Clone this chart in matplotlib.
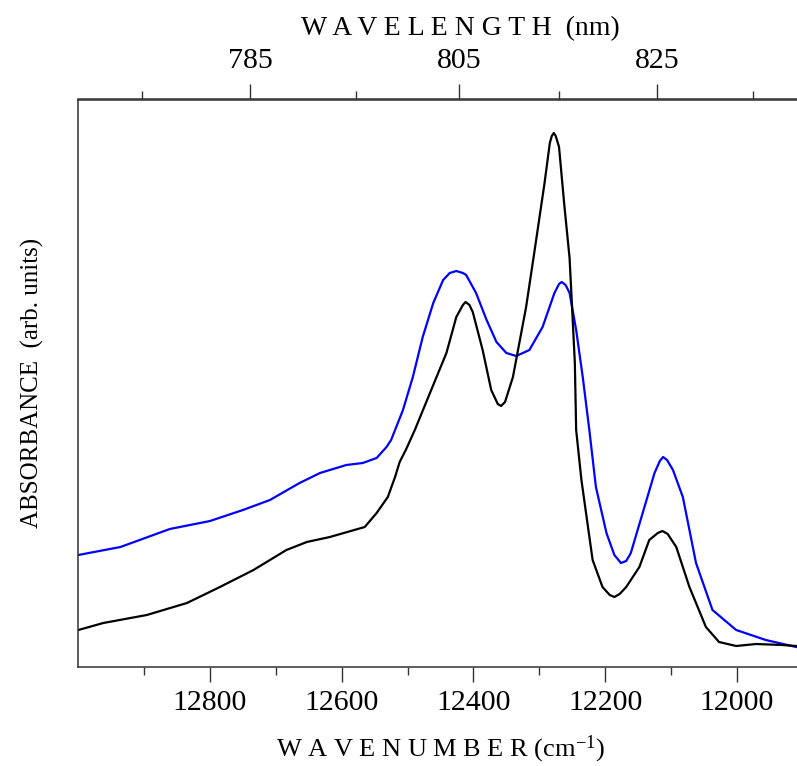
import matplotlib
matplotlib.use("Agg")
import matplotlib.pyplot as plt
from matplotlib.ticker import FixedLocator, NullFormatter

plt.rcParams['font.family'] = ['Liberation Serif', 'DejaVu Serif']
plt.rcParams['mathtext.fontset'] = 'custom'
plt.rcParams['mathtext.rm'] = 'Liberation Serif'
plt.rcParams['mathtext.it'] = 'Liberation Serif:italic'

# ---- data (wavenumber in cm^-1, absorbance in arb. units) ----
blue_wn = [13000, 12936, 12886, 12861, 12800, 12750, 12709, 12664, 12633, 12593,
           12568, 12547, 12532, 12525, 12507, 12492, 12477, 12461, 12446, 12436,
           12426, 12416, 12411, 12396, 12380, 12365, 12350, 12335, 12315, 12295,
           12277, 12270, 12266, 12260, 12254, 12244, 12234, 12224, 12214, 12198,
           12186, 12176, 12168, 12161, 12143, 12125, 12117, 12112, 12106, 12097,
           12082, 12062, 12037, 12001, 11956, 11910]
blue_abs = [1.13, 1.21, 1.33, 1.39, 1.47, 1.58, 1.68, 1.85, 1.95, 2.03,
            2.05, 2.10, 2.21, 2.28, 2.58, 2.91, 3.31, 3.65, 3.88, 3.95,
            3.97, 3.95, 3.93, 3.75, 3.48, 3.26, 3.15, 3.12, 3.18, 3.41,
            3.75, 3.84, 3.86, 3.83, 3.75, 3.38, 2.91, 2.38, 1.81, 1.35,
            1.13, 1.05, 1.07, 1.15, 1.55, 1.95, 2.07, 2.11, 2.08, 1.98,
            1.71, 1.05, 0.58, 0.38, 0.28, 0.21]

black_wn = [13000, 12962, 12896, 12835, 12785, 12734, 12684, 12653, 12618, 12565,
            12547, 12530, 12519, 12512, 12502, 12489, 12466, 12441, 12426, 12416,
            12412, 12406, 12401, 12386, 12373, 12363, 12358, 12352, 12340, 12320,
            12307, 12292, 12284, 12281, 12278, 12275, 12270, 12262, 12254, 12250,
            12246, 12244, 12236, 12229, 12219, 12204, 12193, 12186, 12178, 12168,
            12148, 12133, 12120, 12113, 12105, 12092, 12072, 12047, 12027, 12001,
            11971, 11931, 11910]
black_abs = [0.38, 0.45, 0.53, 0.65, 0.81, 0.98, 1.18, 1.26, 1.31, 1.41,
             1.55, 1.71, 1.91, 2.06, 2.19, 2.38, 2.75, 3.15, 3.51, 3.63,
             3.66, 3.63, 3.56, 3.18, 2.78, 2.64, 2.62, 2.66, 2.91, 3.61,
             4.18, 4.85, 5.25, 5.32, 5.35, 5.32, 5.21, 4.63, 4.10, 3.58,
             3.05, 2.38, 1.88, 1.55, 1.08, 0.81, 0.73, 0.71, 0.74, 0.81,
             1.01, 1.28, 1.35, 1.37, 1.34, 1.21, 0.81, 0.41, 0.26, 0.22,
             0.24, 0.23, 0.22]

wn_major = [12800, 12600, 12400, 12200, 12000]
wn_minor = [12900, 12700, 12500, 12300, 12100, 11900]
wl_major = [785, 805, 825]
wl_minor = [775, 795, 815, 835]

# ---- figure ----
W, H = 797, 766
fig = plt.figure(figsize=(W / 100, H / 100), dpi=100)
ax = fig.add_axes([78.3 / W, (H - 666.7) / H, 724.4 / W, 567.2 / H])

ax.plot(blue_wn, blue_abs, color='#0000ff', lw=1.6, solid_joinstyle='round')
ax.plot(black_wn, black_abs, color='black', lw=1.6, solid_joinstyle='round')

ax.set_xlim(13000, 11900)
ax.set_ylim(0.013, 5.685)

spine_col = '#333333'
for s in ['left', 'bottom', 'top']:
    ax.spines[s].set_color(spine_col)
    ax.spines[s].set_linewidth(1.1)
ax.spines['right'].set_visible(False)

ax.set_yticks([])
ax.xaxis.set_major_locator(FixedLocator(wn_major))
ax.xaxis.set_minor_locator(FixedLocator(wn_minor))
ax.tick_params(axis='x', which='major', direction='out', length=11, width=1.0,
               color=spine_col, labelsize=21.5, pad=5.5, top=False)
ax.tick_params(axis='x', which='minor', direction='out', length=6, width=1.0,
               color=spine_col, top=False)

sec = ax.secondary_xaxis('top', functions=(lambda x: 1e7 / x, lambda x: 1e7 / x))
sec.spines['top'].set_color(spine_col)
sec.spines['top'].set_linewidth(1.1)
sec.xaxis.set_major_locator(FixedLocator(wl_major))
sec.xaxis.set_minor_locator(FixedLocator(wl_minor))
sec.xaxis.set_minor_formatter(NullFormatter())
sec.tick_params(axis='x', which='major', direction='out', length=11, width=1.0,
                color=spine_col, labelsize=21.5, pad=7)
sec.tick_params(axis='x', which='minor', direction='out', length=6, width=1.0,
                color=spine_col)

fig.text(460 / W, (H - 35) / H, 'W A V E L E N G T H  (nm)', fontsize=20,
         ha='center', va='baseline')
fig.text(440 / W, (H - 756.7) / H, 'W A V E N U M B E R (cm$^{\\mathregular{-1}}$)',
         fontsize=19, ha='center', va='baseline')
fig.text(32 / W, 383 / H, 'ABSORBANCE  (arb. units)', fontsize=18,
         rotation=90, ha='center', va='center')

fig.savefig('out.png', dpi=100)
